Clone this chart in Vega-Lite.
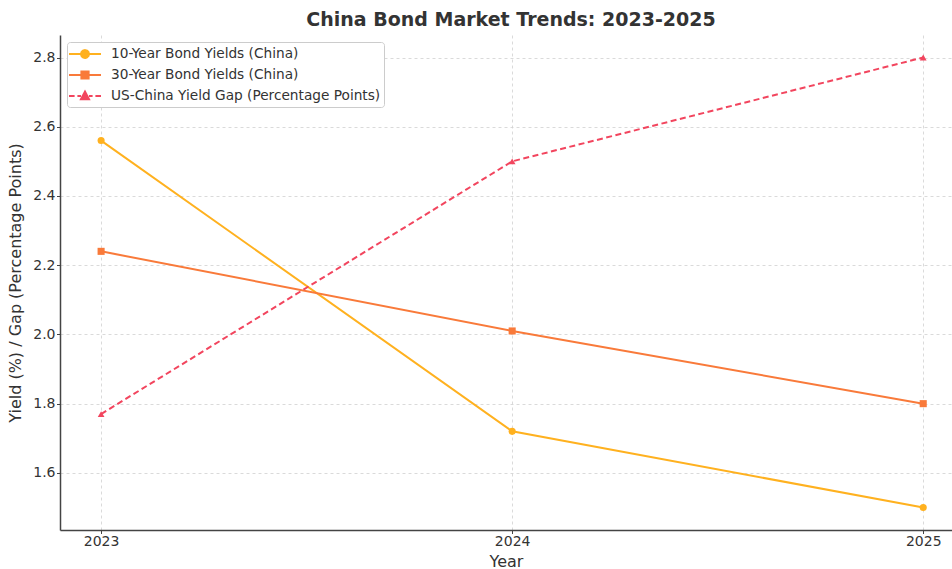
{
  "$schema": "https://vega.github.io/schema/vega-lite/v6.json",
  "autosize": "none",
  "width": 892,
  "height": 495,
  "padding": {"left": 60, "top": 35, "right": 0, "bottom": 39},
  "background": "white",
  "title": {
    "text": "China Bond Market Trends: 2023-2025",
    "font": "DejaVu Sans",
    "fontSize": 19,
    "fontWeight": "bold",
    "color": "#333333",
    "anchor": "middle",
    "dx": 5,
    "offset": 5
  },
  "config": {
    "view": {"stroke": null},
    "font": "DejaVu Sans",
    "axis": {
      "labelFont": "DejaVu Sans",
      "labelFontSize": 14,
      "labelColor": "#333333",
      "titleFont": "DejaVu Sans",
      "titleFontSize": 16,
      "titleFontWeight": "normal",
      "titleColor": "#333333",
      "domainColor": "#444444",
      "domainWidth": 1.5,
      "tickColor": "#444444",
      "tickSize": 3.5,
      "tickWidth": 1,
      "gridColor": "#d0d0d0",
      "gridDash": [3, 3],
      "gridWidth": 0.8
    }
  },
  "data": {
    "values": [
      {"year": 2023, "series": "10-Year Bond Yields (China)", "value": 2.56},
      {"year": 2024, "series": "10-Year Bond Yields (China)", "value": 1.72},
      {"year": 2025, "series": "10-Year Bond Yields (China)", "value": 1.50},
      {"year": 2023, "series": "30-Year Bond Yields (China)", "value": 2.24},
      {"year": 2024, "series": "30-Year Bond Yields (China)", "value": 2.01},
      {"year": 2025, "series": "30-Year Bond Yields (China)", "value": 1.80},
      {"year": 2023, "series": "US-China Yield Gap (Percentage Points)", "value": 1.77},
      {"year": 2024, "series": "US-China Yield Gap (Percentage Points)", "value": 2.50},
      {"year": 2025, "series": "US-China Yield Gap (Percentage Points)", "value": 2.80}
    ]
  },
  "encoding": {
    "x": {
      "field": "year",
      "type": "quantitative",
      "title": "Year",
      "scale": {"domain": [2022.9, 2025.07], "nice": false, "zero": false},
      "axis": {"values": [2023, 2024, 2025], "format": "d", "titlePadding": 4.5, "labelPadding": 1}
    },
    "y": {
      "field": "value",
      "type": "quantitative",
      "title": "Yield (%) / Gap (Percentage Points)",
      "scale": {"domain": [1.435, 2.865], "nice": false, "zero": false},
      "axis": {"values": [1.6, 1.8, 2.0, 2.2, 2.4, 2.6, 2.8], "format": ".1f", "titlePadding": 9, "labelPadding": 1.5}
    },
    "color": {
      "field": "series",
      "type": "nominal",
      "scale": {
        "domain": ["10-Year Bond Yields (China)", "30-Year Bond Yields (China)", "US-China Yield Gap (Percentage Points)"],
        "range": ["#FFB11F", "#F97A3A", "#F2455E"]
      },
      "legend": {
        "title": null,
        "orient": "top-left",
        "offset": 7,
        "padding": 3,
        "fillColor": "white",
        "strokeColor": "#cccccc",
        "cornerRadius": 3,
        "labelFont": "DejaVu Sans",
        "labelFontSize": 13.7,
        "labelColor": "#333333",
        "labelOffset": 17,
        "symbolSize": 256,
        "symbolOffset": 6,
        "symbolStrokeWidth": 2,
        "rowPadding": 4,
        "labelLimit": 400,
        "encode": {
          "symbols": {
            "update": {
              "shape": {"signal": "datum.value == '10-Year Bond Yields (China)' ? 'M-2,0L2,0M0.5,0L0.433,0.25L0.25,0.433L0,0.5L-0.25,0.433L-0.433,0.25L-0.5,0L-0.433,-0.25L-0.25,-0.433L0,-0.5L0.25,-0.433L0.433,-0.25Z' : datum.value == '30-Year Bond Yields (China)' ? 'M-2,0L2,0M-0.45,-0.45L0.45,-0.45L0.45,0.45L-0.45,0.45Z' : 'M-2,0L-1.3,0M-0.95,0L-0.5,0M0.5,0L0.95,0M1.3,0L2,0M0,-0.55L0.5,0.4L-0.5,0.4Z'"},
              "size": {"value": 256},
              "fill": {"signal": "scale('color', datum.value)"},
              "stroke": {"signal": "scale('color', datum.value)"},
              "strokeDash": {"value": [1, 0]},
              "strokeWidth": {"value": 2},
              "opacity": {"value": 1},
              "fillOpacity": {"value": 1},
              "strokeOpacity": {"value": 1}
            }
          }
        }
      }
    }
  },
  "layer": [
    {
      "transform": [{"filter": "datum.series != 'US-China Yield Gap (Percentage Points)'"}],
      "mark": {"type": "line", "strokeWidth": 2},
      "encoding": {"detail": {"field": "series"}}
    },
    {
      "transform": [{"filter": "datum.series == 'US-China Yield Gap (Percentage Points)'"}],
      "mark": {"type": "line", "strokeWidth": 2, "strokeDash": [6, 3.5]},
      "encoding": {}
    },
    {
      "transform": [{"filter": "datum.series == '10-Year Bond Yields (China)'"}],
      "mark": {"type": "point", "filled": true, "opacity": 1, "size": 50, "shape": "circle"},
      "encoding": {}
    },
    {
      "transform": [{"filter": "datum.series == '30-Year Bond Yields (China)'"}],
      "mark": {"type": "point", "filled": true, "opacity": 1, "size": 50, "shape": "square"},
      "encoding": {}
    },
    {
      "transform": [{"filter": "datum.series == 'US-China Yield Gap (Percentage Points)'"}],
      "mark": {"type": "point", "filled": true, "opacity": 1, "size": 45, "shape": "triangle-up"},
      "encoding": {}
    }
  ]
}
